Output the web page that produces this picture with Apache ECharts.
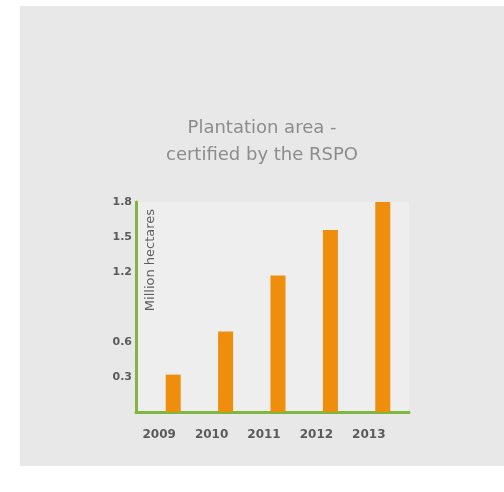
<!DOCTYPE html>
<html>
<head>
<meta charset="utf-8">
<script src="https://cdn.jsdelivr.net/npm/echarts@6/dist/echarts.min.js"></script>
<style>
  html, body { margin: 0; padding: 0; background: #ffffff; }
  #chart { position: absolute; left: 20px; top: 6px; width: 484px; height: 460px; }
</style>
</head>
<body>
<div id="chart"></div>
<script>
// data
var years = ['2009', '2010', '2011', '2012', '2013']
var certifiedArea = [0.32, 0.69, 1.17, 1.56, 1.8]
var yTickLabels = [0.3, 0.6, 1.2, 1.5, 1.8]

var axisGreen = '#7fb63e'
var labelFont = { color: '#5a5a5a', fontFamily: 'DejaVu Sans', fontWeight: 'bold' }

var chart = echarts.init(document.getElementById('chart'))
chart.setOption({
  backgroundColor: '#e8e8e8',
  animation: false,
  title: {
    text: 'Plantation area -\ncertified by the RSPO',
    left: 'center',
    top: 104,
    textStyle: {
      color: '#8c8c8c',
      fontFamily: 'DejaVu Sans',
      fontWeight: 'normal',
      fontSize: 18,
      lineHeight: 27
    }
  },
  grid: [
    // bars
    { left: 127, width: 262, top: 196, height: 210 },
    // plot background and the full-length x axis line
    { left: 116, width: 273, top: 196, height: 210, show: true, backgroundColor: '#eeeeee', borderWidth: 0 }
  ],
  xAxis: [
    {
      type: 'category',
      gridIndex: 0,
      data: years,
      axisLine: { show: false },
      axisTick: { show: false },
      axisLabel: Object.assign({ fontSize: 12, margin: 17, padding: [0, 28, 0, 0] }, labelFont)
    },
    {
      type: 'category',
      gridIndex: 1,
      data: years,
      axisLine: { lineStyle: { color: axisGreen, width: 3 } },
      axisTick: { show: false },
      axisLabel: { show: false }
    }
  ],
  yAxis: [
    {
      type: 'value',
      gridIndex: 0,
      min: 0,
      max: 1.8,
      interval: 0.1,
      offset: 11,
      axisLine: { show: true, lineStyle: { color: axisGreen, width: 3 } },
      axisTick: { show: false },
      splitLine: { show: false },
      axisLabel: Object.assign({
        fontSize: 11,
        margin: 4,
        formatter: function (v) {
          var r = Math.round(v * 10) / 10
          return yTickLabels.indexOf(r) >= 0 ? r.toFixed(1) : ''
        }
      }, labelFont)
    },
    {
      type: 'value',
      gridIndex: 1,
      min: 0,
      max: 1.8,
      show: false
    }
  ],
  graphic: [
    {
      type: 'text',
      x: 131,
      y: 254,
      rotation: Math.PI / 2,
      z: 10,
      style: {
        text: 'Million hectares',
        fill: '#5f5f5f',
        font: '13px "DejaVu Sans"',
        textAlign: 'center',
        textVerticalAlign: 'middle'
      }
    }
  ],
  series: [
    {
      name: 'Certified area',
      type: 'bar',
      xAxisIndex: 0,
      yAxisIndex: 0,
      barWidth: 15,
      itemStyle: { color: '#ef8d0c' },
      data: certifiedArea
    }
  ]
})
</script>
</body>
</html>
